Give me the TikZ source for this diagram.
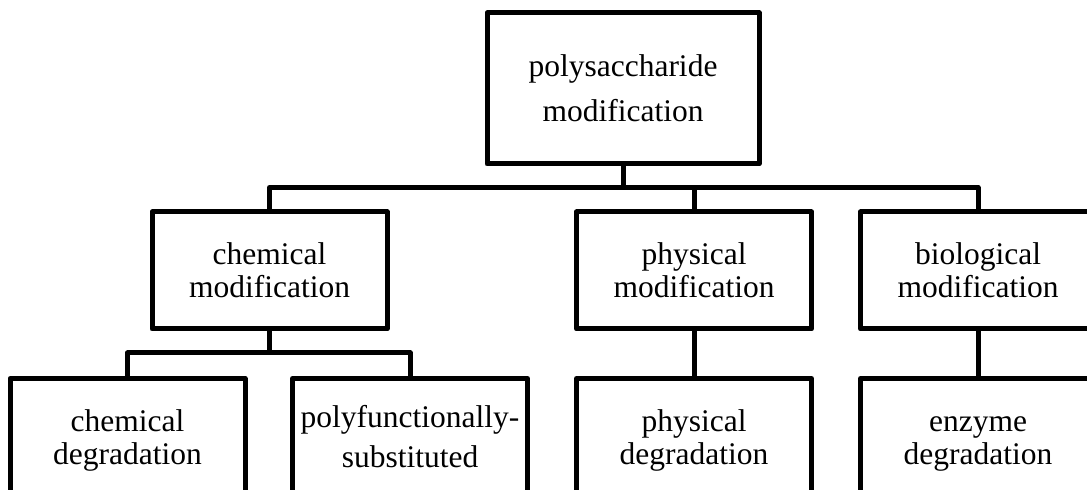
\documentclass[tikz,border=0pt]{standalone}
\usepackage{fontspec}
\setmainfont{Liberation Serif}

\begin{document}
\begin{tikzpicture}[x=0.5pt, y=-0.5pt,
        box/.style={draw, rectangle, line width=2.5pt, line join=round, align=center,
            minimum width=117.5pt, minimum height=58.5pt, inner sep=0pt,
            font=\fontsize{15.75}{16.7}\selectfont},
        line/.style={draw, line width=2.5pt, line join=round}]
        \useasboundingbox (0, 0) rectangle (1087, 490);
        \clip (0, 0) rectangle (1087, 490);

        \node[box, minimum width=136pt, minimum height=75.5pt, font=\fontsize{15.75}{22.5}\selectfont]
            at (623, 88.5)(top){polysaccharide\\modification};
        \node[box] at (269.5, 270.5)(chem){chemical\\modification};
        \node[box] at (694, 270.5)(phys){physical\\modification};
        \node[box] at (978, 270.5)(bio){biological\\modification};
        \node[box] at (127.5, 437)(chemdeg){chemical\\\smash{degradation}};
        \node[box, font=\fontsize{15.75}{20}\selectfont]
            at (410, 437)(poly){polyfunctionally-\\substituted};
        \node[box] at (694, 437)(physdeg){physical\\\smash{degradation}};
        \node[box] at (978, 437)(enzdeg){\vphantom{h}enzyme\\\smash{degradation}};

        \coordinate (j1) at (623, 187.5);
        \coordinate (j2) at (269.5, 353);

        \path[line]
        (top)edge(j1)
        (chem)edge(j2)
        (phys)edge(physdeg)
        (bio)edge(enzdeg)
        ;
        \draw[line] (chem.north) |- (j1) -| (bio.north);
        \draw[line] (j1) -| (phys.north);
        \draw[line] (chemdeg.north) |- (j2) -| (poly.north);
    \end{tikzpicture}
\end{document}
